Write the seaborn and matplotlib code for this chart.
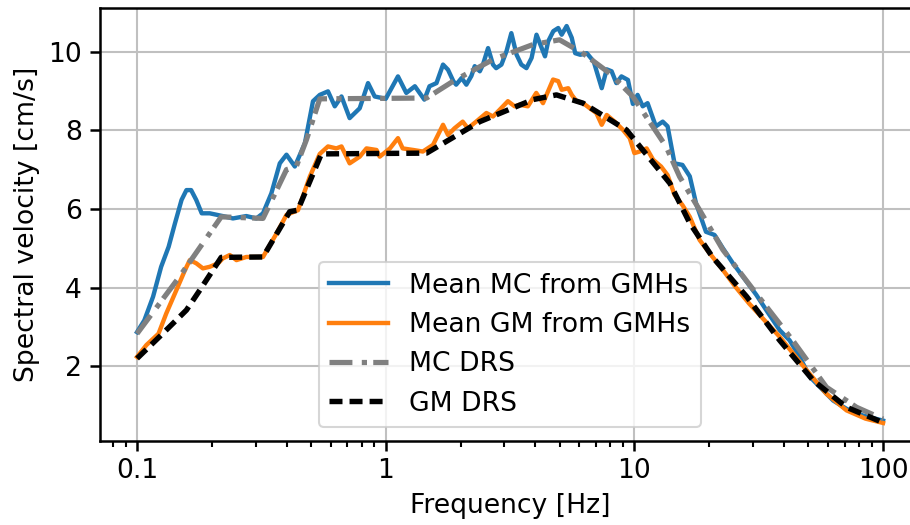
import numpy as np
import pandas as pd
import matplotlib
matplotlib.use("Agg")
import matplotlib.pyplot as plt
import seaborn as sns

# Mean MC from GMHs (blue)
mc_freq = [0.100, 0.107, 0.116, 0.125, 0.134, 0.142, 0.151, 0.158, 0.165, 0.173,
           0.182, 0.196, 0.221, 0.243, 0.275, 0.302, 0.321, 0.347, 0.375, 0.399,
           0.431, 0.473, 0.510, 0.543, 0.586, 0.624, 0.664, 0.716, 0.786, 0.849,
           0.903, 1.00, 1.12, 1.21, 1.31, 1.43, 1.50, 1.60, 1.70, 1.78,
           1.87, 1.92, 2.02, 2.11, 2.21, 2.28, 2.39, 2.46, 2.58, 2.70,
           2.78, 2.92, 3.06, 3.20, 3.36, 3.51, 3.68, 3.86, 4.04, 4.24,
           4.37, 4.50, 4.72, 4.94, 5.10, 5.34, 5.60, 5.78, 6.06, 6.44,
           6.86, 7.39, 7.74, 8.10, 8.46, 8.87, 9.42, 9.86, 10.3, 10.8,
           11.3, 12.2, 13.0, 13.6, 14.5, 15.6, 16.7, 17.7, 19.4, 21.0,
           22.7, 24.9, 27.3, 30.9, 33.9, 38.4, 42.1, 46.2, 50.8, 55.8,
           63.0, 71.3, 83.0, 100.0]
mc_mean = [2.87, 3.17, 3.77, 4.53, 5.04, 5.63, 6.23, 6.48, 6.48, 6.23,
           5.89, 5.89, 5.82, 5.76, 5.82, 5.76, 5.89, 6.40, 7.16, 7.38,
           7.08, 7.67, 8.74, 8.90, 8.99, 8.61, 8.86, 8.31, 8.56, 9.20,
           8.86, 8.80, 9.37, 8.95, 9.12, 8.78, 9.12, 9.20, 9.67, 9.54,
           9.25, 9.16, 9.33, 9.16, 9.38, 9.63, 9.50, 9.67, 10.09, 9.67,
           9.58, 9.67, 10.01, 10.47, 9.92, 9.67, 9.58, 9.84, 10.43, 10.09,
           9.88, 10.26, 10.52, 10.60, 10.43, 10.65, 10.35, 9.96, 9.92, 9.96,
           9.75, 9.07, 9.55, 9.50, 9.20, 9.37, 9.28, 8.67, 8.90, 8.61,
           8.69, 8.10, 8.22, 8.10, 7.16, 7.12, 6.83, 6.14, 5.42, 5.34,
           5.00, 4.62, 4.28, 3.82, 3.43, 2.92, 2.66, 2.24, 1.73, 1.47,
           1.13, 0.92, 0.75, 0.62]

# Mean GM from GMHs (orange)
gm_freq = [0.100, 0.109, 0.122, 0.131, 0.144, 0.156, 0.163, 0.173, 0.184, 0.196,
           0.212, 0.221, 0.236, 0.251, 0.275, 0.321, 0.364, 0.399, 0.444, 0.495,
           0.543, 0.586, 0.633, 0.664, 0.716, 0.786, 0.837, 0.918, 0.946, 1.04,
           1.12, 1.17, 1.29, 1.41, 1.55, 1.70, 1.78, 1.89, 2.04, 2.14,
           2.31, 2.54, 2.70, 2.87, 3.10, 3.30, 3.45, 3.73, 4.03, 4.29,
           4.71, 4.94, 5.10, 5.42, 5.60, 5.85, 6.22, 6.62, 7.03, 7.39,
           7.74, 8.33, 9.00, 9.58, 10.0, 10.5, 11.2, 11.9, 12.8, 13.6,
           14.5, 15.6, 16.7, 18.3, 20.1, 22.7, 25.5, 28.9, 38.4, 49.3,
           59.2, 71.3, 85.0, 100.0]
gm_mean = [2.24, 2.54, 2.83, 3.34, 3.94, 4.45, 4.70, 4.62, 4.49, 4.53,
           4.62, 4.74, 4.83, 4.70, 4.78, 4.78, 5.38, 5.85, 5.97, 6.82,
           7.40, 7.59, 7.54, 7.59, 7.16, 7.33, 7.54, 7.50, 7.33, 7.54,
           7.80, 7.54, 7.50, 7.46, 7.63, 8.14, 7.88, 8.05, 8.22, 8.05,
           8.22, 8.44, 8.35, 8.52, 8.74, 8.61, 8.65, 8.61, 8.95, 8.69,
           9.29, 9.25, 9.03, 9.07, 8.90, 8.74, 8.69, 8.56, 8.44, 8.14,
           8.39, 8.22, 8.01, 7.80, 7.42, 7.46, 7.54, 7.25, 7.08, 6.86,
           6.36, 6.10, 5.80, 5.21, 4.87, 4.45, 4.02, 3.60, 2.75, 1.90,
           1.30, 0.88, 0.67, 0.56]

# MC DRS (grey dash-dot)
mc_drs_freq = [0.100, 0.149, 0.218, 0.321, 0.399, 0.437, 0.480, 0.543, 1.46, 1.87,
               2.70, 3.91, 5.00, 6.20, 7.95, 9.85, 13.4, 15.2, 18.3, 22.7,
               30.9, 43.3, 59.2, 78.2, 100.0]
mc_drs = [2.83, 4.30, 5.80, 5.76, 7.00, 7.08, 7.76, 8.80, 8.82, 9.25,
          9.80, 10.18, 10.30, 9.96, 9.45, 8.86, 7.59, 6.82, 5.97, 4.96,
          3.85, 2.66, 1.47, 0.96, 0.66]

# GM DRS (black dashed)
gm_drs_freq = [0.100, 0.123, 0.158, 0.179, 0.218, 0.321, 0.411, 0.443, 0.551, 1.46,
               2.39, 3.91, 4.86, 6.21, 9.29, 13.9, 16.7, 20.6, 28.3, 38.4,
               52.4, 71.3, 100.0]
gm_drs = [2.20, 2.75, 3.43, 3.94, 4.77, 4.78, 5.93, 5.97, 7.40, 7.42,
          8.22, 8.78, 8.90, 8.69, 8.01, 6.65, 5.64, 4.78, 3.77, 2.66,
          1.64, 0.96, 0.57]

plt.rcParams["font.family"] = ["DejaVu Sans"]
plt.rcParams["font.size"] = 12.8

fig = plt.figure(figsize=(910 / 150, 525 / 150), dpi=150)
# the original is cropped on the right, so the axes run past the figure edge
ax = fig.add_axes([0.1096, 0.1606, 0.9018, 0.825])

sns.lineplot(x=mc_freq, y=mc_mean, ax=ax, color="#1f77b4", lw=2.1,
             label="Mean MC from GMHs")
sns.lineplot(x=gm_freq, y=gm_mean, ax=ax, color="#ff7f0e", lw=2.1,
             label="Mean GM from GMHs")
sns.lineplot(x=mc_drs_freq, y=mc_drs, ax=ax, color="grey", lw=2.5,
             linestyle=(0, (4.4, 1.8, 1.0, 1.2)), label="MC DRS")
sns.lineplot(x=gm_drs_freq, y=gm_drs, ax=ax, color="black", lw=2.6,
             linestyle=(0, (2.4, 1.3)), label="GM DRS")

ax.set_xscale("log")
ax.set_xlim(10 ** -1.15, 10 ** 2.15)
ax.set_ylim(0.11, 11.12)
ax.set_xticks([0.1, 1, 10, 100])
ax.set_xticklabels(["0.1", "1", "10", "100"])
ax.set_yticks([2, 4, 6, 8, 10])
ax.grid(True, which="major", color="#c0c0c0", lw=1)
ax.set_axisbelow(True)
for s in ax.spines.values():
    s.set_linewidth(1.2)
ax.tick_params(which="major", length=5, width=1.2)
ax.tick_params(which="minor", length=3, width=1)

ax.set_xlabel("Frequency [Hz]")
ax.set_ylabel("Spectral velocity [cm/s]")
ax.legend(loc="lower center", handlelength=2.2)

fig.savefig("out.png", dpi=150)
